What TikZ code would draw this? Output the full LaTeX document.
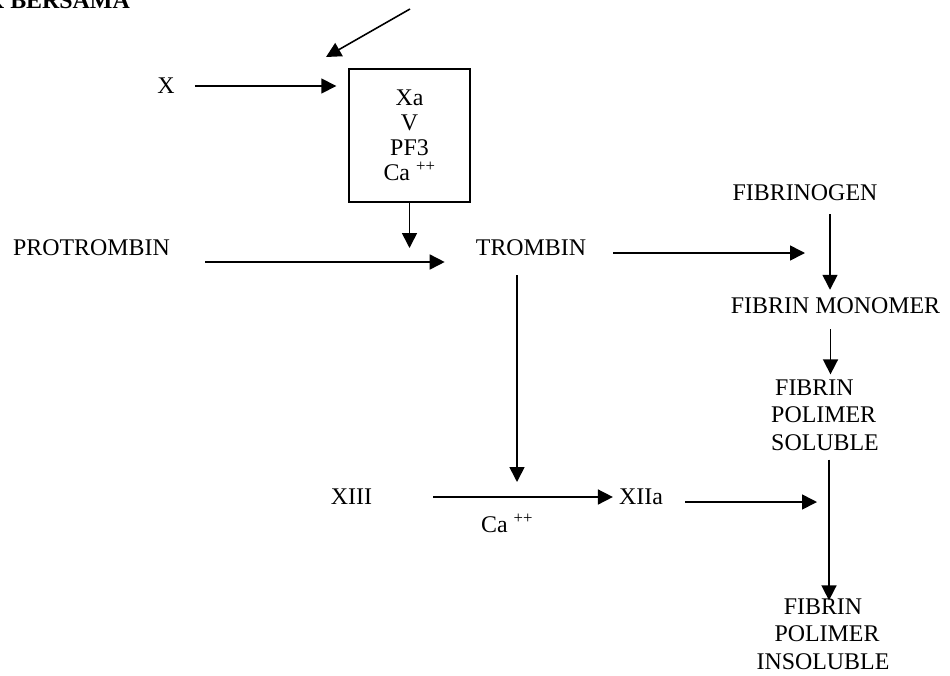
\documentclass[tikz,border=0pt]{standalone}
\usepackage{fontspec}
\setmainfont{Liberation Serif}
\usetikzlibrary{arrows.meta, positioning}

\begin{document}
\begin{tikzpicture}[
        x=1pt, y=-1pt,
        txt/.style={inner sep=0pt, font=\fontsize{23.9}{27.5}\selectfont},
        cbox/.style={rectangle, draw, line width=1.4pt, inner sep=0pt,
                     minimum width=121pt, minimum height=133pt, align=center,
                     font=\fontsize{23.9}{25}\selectfont},
        arr/.style={-{Triangle[length=15pt, width=15pt]}, line width=1.6pt},
    ]
        \useasboundingbox (0,0) rectangle (950,675);
        \clip (0,0) rectangle (950,675);
        \node[txt, font=\fontsize{23.9}{27.5}\selectfont\bfseries, anchor=base east] (title) at (130,8) {K BERSAMA};
        \node[txt] (x)     at (166,86)    {X};
        \node[cbox] (box)  at (409.5,135.5) {Xa\\V\\PF3\\Ca \textsuperscript{++}};
        \node[txt] (prot)  at (91.5,248)  {PROTROMBIN};
        \node[txt] (tromb) at (531,248)   {TROMBIN};
        \node[txt] (fgen)  at (805,193)   {FIBRINOGEN};
        \node[txt] (mono)  at (835.5,306) {FIBRIN MONOMER};
        \node[txt, align=left] (sol) at (825,415) {\hspace{4pt}FIBRIN\\POLIMER\\SOLUBLE};
        \node[txt, align=center] (insol) at (823,634) {FIBRIN\\\hspace{8pt}POLIMER\\INSOLUBLE};
        \node[txt] (xiii)  at (351.5,497) {XIII};
        \node[txt] (xiia)  at (641,497)   {XIIa};
        \node[txt] (ca)    at (507,523)   {Ca \textsuperscript{++}};
        \coordinate (diag)    at (410,9);
        \coordinate (diagtip) at (326,57);
        % arrows
        \draw[arr] (diag) -- (diagtip);
        \draw[arr, shorten <=20pt, shorten >=12pt] (x) -- (x -| box.west);
        \draw[arr] (box.south) -- (box.south |- prot.center);
        \draw[arr, shorten <=35pt, shorten >=31pt] ([yshift=-14pt]prot.east) -- ([yshift=-14pt]tromb.west);
        \draw[arr, shorten <=27pt] ([yshift=-5pt]tromb.east) -- ([yshift=-5pt]tromb.east -| fgen.center);
        \draw[arr, shorten <=13pt, shorten >=8pt] ([xshift=25pt]fgen.south) -- ([xshift=25pt]fgen.south |- mono.north);
        \draw[arr, shorten <=15pt, shorten >=5pt] ([xshift=-5pt]mono.south) -- ([xshift=-5pt]mono.south |- sol.north);
        \draw[arr, shorten <=19pt, shorten >=15pt] ([xshift=-14pt]tromb.south) -- ([xshift=-14pt]tromb.south |- xiia.center);
        \draw[arr, shorten <=61pt, shorten >=6pt] (xiii) -- (xiia);
        \draw[arr, shorten <=22pt, shorten >=8pt] ([yshift=-5pt]xiia.east) -- ([yshift=-5pt]xiia.east -| sol.south);
        \draw[arr, shorten <=9pt, shorten >=-2pt] ([xshift=4pt]sol.south) -- ([xshift=4pt]sol.south |- insol.north);
\end{tikzpicture}
\end{document}
